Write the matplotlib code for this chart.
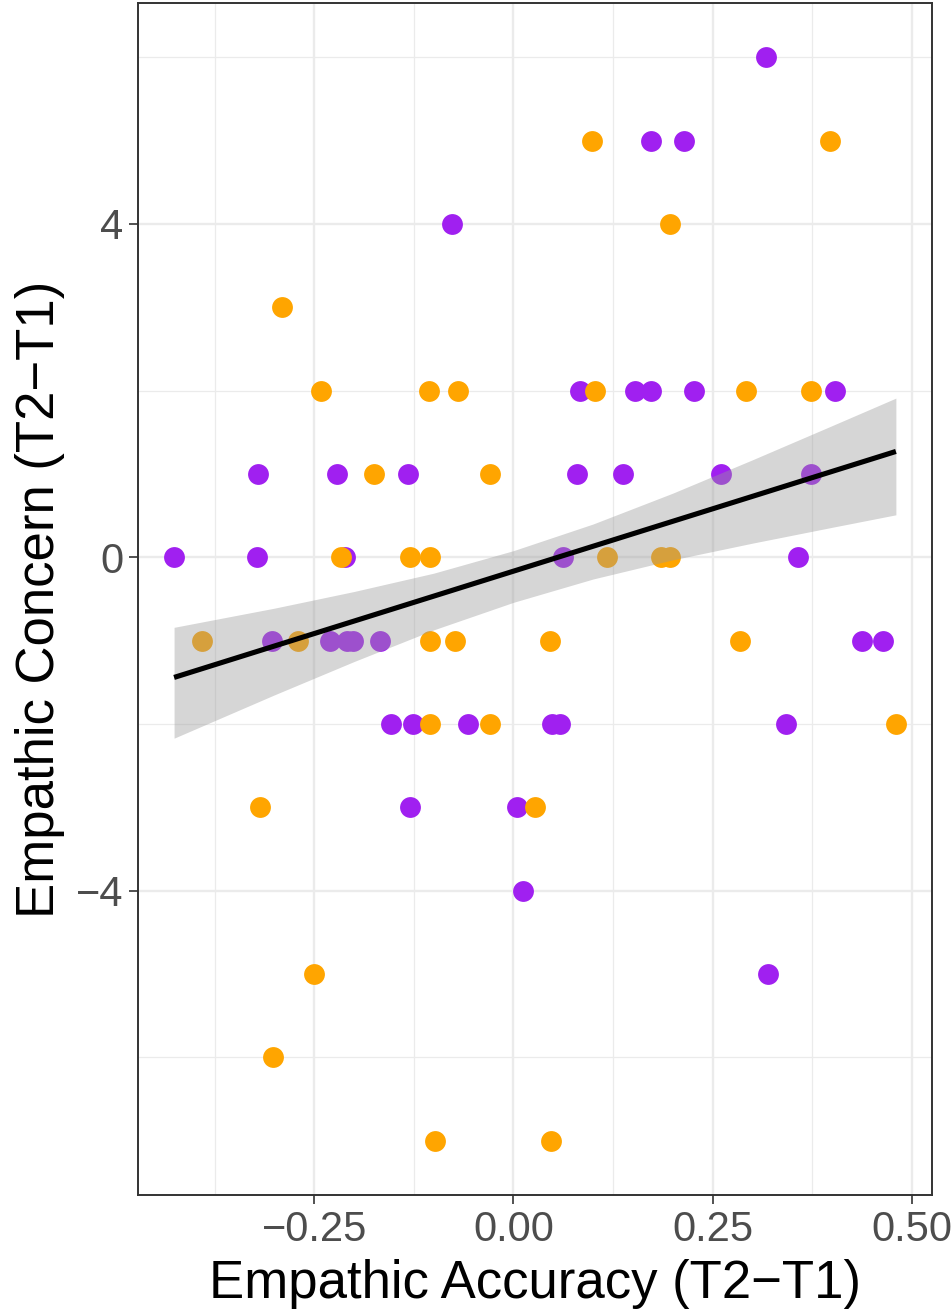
import numpy as np
import matplotlib
matplotlib.use("Agg")
import matplotlib.pyplot as plt
from matplotlib.ticker import FixedLocator

plt.rcParams['font.family'] = ['Liberation Sans', 'DejaVu Sans']

# group 1 (purple)
purple_x = [0.317, 0.173, 0.214, -0.077, 0.083, 0.152, 0.172, 0.227, 0.403,
            -0.321, -0.222, -0.132, 0.080, 0.138, 0.260, 0.373,
            -0.426, -0.322, -0.212, 0.062, 0.357,
            -0.303, -0.230, -0.209, -0.202, -0.168, 0.438, 0.464,
            -0.154, -0.126, -0.057, 0.048, 0.058, 0.342,
            -0.130, 0.005, 0.012, 0.319]
purple_y = [6, 5, 5, 4, 2, 2, 2, 2, 2,
            1, 1, 1, 1, 1, 1, 1,
            0, 0, 0, 0, 0,
            -1, -1, -1, -1, -1, -1, -1,
            -2, -2, -2, -2, -2, -2,
            -3, -3, -4, -5]

# group 2 (orange)
orange_x = [0.098, 0.397, 0.196, -0.291,
            -0.241, -0.106, -0.070, 0.102, 0.292, 0.373,
            -0.175, -0.030,
            -0.216, -0.130, -0.105, 0.117, 0.185, 0.196,
            -0.391, -0.270, -0.105, -0.074, 0.046, 0.284,
            -0.105, -0.030, 0.480,
            -0.318, 0.027, -0.250, -0.302, -0.099, 0.047]
orange_y = [5, 5, 4, 3,
            2, 2, 2, 2, 2, 2,
            1, 1,
            0, 0, 0, 0, 0, 0,
            -1, -1, -1, -1, -1, -1,
            -2, -2, -2,
            -3, -3, -5, -6, -7, -7]

# confidence band edges
ci_x = [-0.426, -0.3, -0.2, -0.1, 0.0, 0.1, 0.2, 0.3, 0.4, 0.480]
ci_hi = [-0.84, -0.61, -0.41, -0.19, 0.08, 0.40, 0.77, 1.17, 1.58, 1.91]
ci_lo = [-2.17, -1.65, -1.25, -0.87, -0.54, -0.26, -0.03, 0.17, 0.36, 0.51]

x_major = [-0.25, 0.0, 0.25, 0.50]
x_labels = ["\u22120.25", "0.00", "0.25", "0.50"]
y_major = [-4, 0, 4]
y_labels = ["\u22124", "0", "4"]

# linear fit
xs = np.array(purple_x + orange_x)
ys = np.array(purple_y + orange_y)
b1, b0 = np.polyfit(xs, ys, 1)
gx = np.array([xs.min(), xs.max()])
gy = b0 + b1 * gx

fig = plt.figure(figsize=(9.51, 13.14), dpi=100)
ax = fig.add_axes([0.1451, 0.0906, 0.8349, 0.9071])

ax.scatter(purple_x, purple_y, s=225, color="#A020F0", linewidths=0, zorder=3)
ax.scatter(orange_x, orange_y, s=225, color="#FFA500", linewidths=0, zorder=3)
ax.fill_between(ci_x, ci_lo, ci_hi, color="#999999", alpha=0.4, linewidth=0, zorder=4)
ax.plot(gx, gy, color="black", linewidth=3.7, solid_capstyle="butt", zorder=5)

xr = xs.max() - xs.min()
yr = ys.max() - ys.min()
ax.set_xlim(xs.min() - 0.05 * xr, xs.max() + 0.05 * xr)
ax.set_ylim(ys.min() - 0.05 * yr, ys.max() + 0.05 * yr)

ax.set_xticks(x_major)
ax.set_xticklabels(x_labels)
ax.set_yticks(y_major)
ax.set_yticklabels(y_labels)
ax.xaxis.set_minor_locator(FixedLocator([-0.375, -0.125, 0.125, 0.375]))
ax.yaxis.set_minor_locator(FixedLocator([-6, -2, 2, 6]))

ax.grid(which="major", color="#EBEBEB", linewidth=1.7, zorder=0)
ax.grid(which="minor", color="#EBEBEB", linewidth=0.9, zorder=0)
ax.set_axisbelow(True)
ax.tick_params(which="minor", length=0)
ax.tick_params(which="major", length=6.5, width=1.2, color="#333333",
               labelsize=30, labelcolor="#4D4D4D", pad=4)

for sp in ax.spines.values():
    sp.set_color("#333333")
    sp.set_linewidth(1.4)

ax.set_xlabel("Empathic Accuracy (T2\u2212T1)", fontsize=38, labelpad=7)
ax.set_ylabel("Empathic Concern (T2\u2212T1)", fontsize=38, labelpad=8)

fig.savefig("out.png", dpi=100)
